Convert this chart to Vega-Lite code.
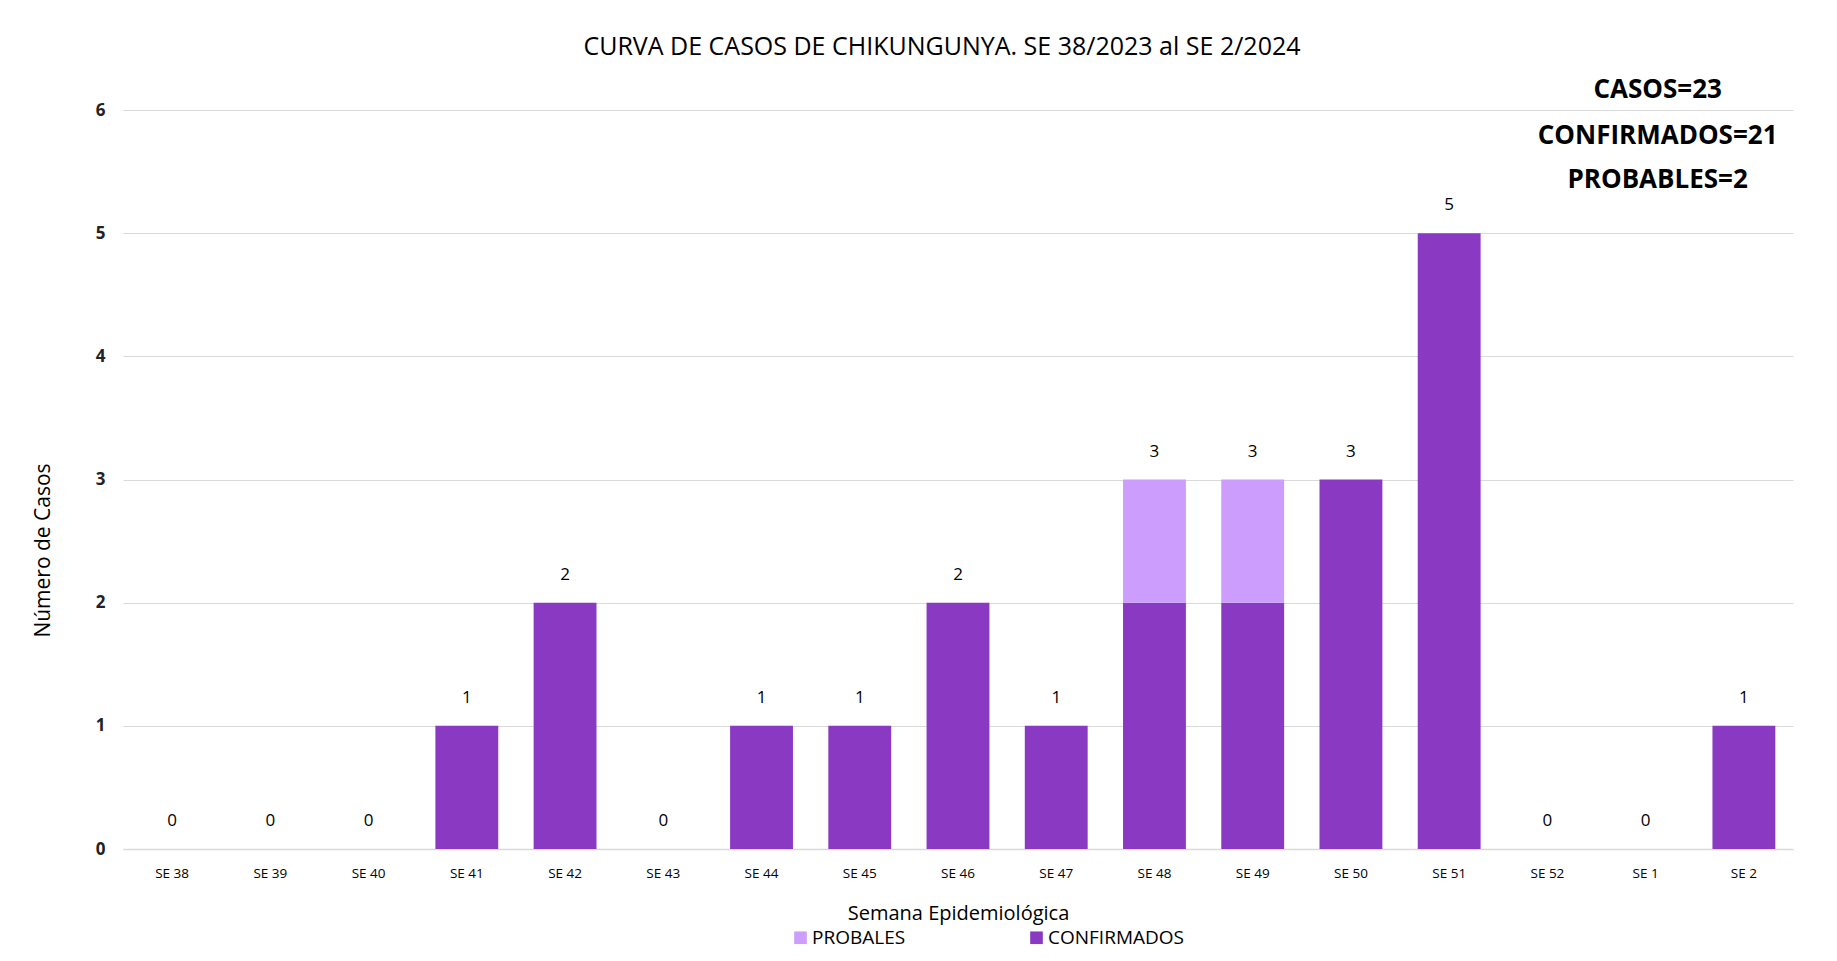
{
  "$schema": "https://vega.github.io/schema/vega-lite/v6.json",
  "autosize": {"type": "none"},
  "width": 1670,
  "height": 739,
  "padding": {"left": 123, "top": 110, "right": 44, "bottom": 112},
  "background": "white",
  "title": {
    "text": "CURVA DE CASOS DE CHIKUNGUNYA. SE 38/2023 al SE 2/2024",
    "font": "Open Sans",
    "fontSize": 25,
    "fontWeight": "normal",
    "color": "#000000",
    "offset": 17,
    "dx": -16
  },
  "config": {
    "view": {"stroke": null},
    "font": "Open Sans"
  },
  "datasets": {
    "casos": [
      {"semana": "SE 38", "tipo": "CONFIRMADOS", "casos": 0},
      {"semana": "SE 39", "tipo": "CONFIRMADOS", "casos": 0},
      {"semana": "SE 40", "tipo": "CONFIRMADOS", "casos": 0},
      {"semana": "SE 41", "tipo": "CONFIRMADOS", "casos": 1},
      {"semana": "SE 42", "tipo": "CONFIRMADOS", "casos": 2},
      {"semana": "SE 43", "tipo": "CONFIRMADOS", "casos": 0},
      {"semana": "SE 44", "tipo": "CONFIRMADOS", "casos": 1},
      {"semana": "SE 45", "tipo": "CONFIRMADOS", "casos": 1},
      {"semana": "SE 46", "tipo": "CONFIRMADOS", "casos": 2},
      {"semana": "SE 47", "tipo": "CONFIRMADOS", "casos": 1},
      {"semana": "SE 48", "tipo": "CONFIRMADOS", "casos": 2},
      {"semana": "SE 48", "tipo": "PROBALES", "casos": 1},
      {"semana": "SE 49", "tipo": "CONFIRMADOS", "casos": 2},
      {"semana": "SE 49", "tipo": "PROBALES", "casos": 1},
      {"semana": "SE 50", "tipo": "CONFIRMADOS", "casos": 3},
      {"semana": "SE 51", "tipo": "CONFIRMADOS", "casos": 5},
      {"semana": "SE 52", "tipo": "CONFIRMADOS", "casos": 0},
      {"semana": "SE 1", "tipo": "CONFIRMADOS", "casos": 0},
      {"semana": "SE 2", "tipo": "CONFIRMADOS", "casos": 1}
    ],
    "resumen": [
      {"semana": "SE 1", "valor": 6.16, "texto": "CASOS=23"},
      {"semana": "SE 1", "valor": 5.79, "texto": "CONFIRMADOS=21"},
      {"semana": "SE 1", "valor": 5.43, "texto": "PROBABLES=2"}
    ]
  },
  "layer": [
    {
      "data": {"name": "casos"},
      "mark": {"type": "bar"},
      "encoding": {
        "x": {
          "field": "semana",
          "type": "nominal",
          "sort": ["SE 38","SE 39","SE 40","SE 41","SE 42","SE 43","SE 44","SE 45","SE 46","SE 47","SE 48","SE 49","SE 50","SE 51","SE 52","SE 1","SE 2"],
          "scale": {"paddingInner": 0.36, "paddingOuter": 0.18},
          "axis": {
            "title": "Semana Epidemiológica",
            "titleFont": "Open Sans",
            "titleFontSize": 20,
            "titleFontWeight": "normal",
            "titleColor": "#000000",
            "titlePadding": 24,
            "labelAngle": 0,
            "labelFontSize": 13.5,
            "labelColor": "#000000",
            "labelPadding": 17,
            "ticks": false,
            "domainColor": "#d9d9d9",
            "domainWidth": 1.5
          }
        },
        "y": {
          "field": "casos",
          "type": "quantitative",
          "aggregate": "sum",
          "stack": "zero",
          "scale": {"domain": [0, 6]},
          "axis": {
            "title": "Número de Casos",
            "titleFont": "Open Sans",
            "titleFontSize": 21,
            "titleFontWeight": "normal",
            "titleColor": "#000000",
            "titlePadding": 42,
            "titleY": 440,
            "tickCount": 6,
            "labelFontSize": 17,
            "labelFontWeight": "bold",
            "labelColor": "#222222",
            "labelPadding": 18,
            "ticks": false,
            "domain": false,
            "gridColor": "#d9d9d9",
            "gridWidth": 1.2
          }
        },
        "color": {
          "field": "tipo",
          "type": "nominal",
          "scale": {"domain": ["PROBALES", "CONFIRMADOS"], "range": ["#cc9dfc", "#8a3ac2"]},
          "legend": {
            "title": null,
            "orient": "none",
            "legendX": 668,
            "legendY": 818,
            "direction": "horizontal",
            "symbolType": "square",
            "symbolSize": 160,
            "symbolStrokeWidth": 0,
            "labelFontSize": 19,
            "labelColor": "#000000",
            "labelOffset": 2,
            "columnPadding": 121
          }
        },
        "order": {"field": "tipo", "sort": "ascending"}
      }
    },
    {
      "data": {"name": "casos"},
      "transform": [
        {"aggregate": [{"op": "sum", "field": "casos", "as": "total"}], "groupby": ["semana"]}
      ],
      "mark": {"type": "text", "dy": -19, "fontSize": 17, "color": "#000000", "baseline": "bottom"},
      "encoding": {
        "x": {"field": "semana", "type": "nominal", "sort": ["SE 38","SE 39","SE 40","SE 41","SE 42","SE 43","SE 44","SE 45","SE 46","SE 47","SE 48","SE 49","SE 50","SE 51","SE 52","SE 1","SE 2"]},
        "y": {"field": "total", "type": "quantitative"},
        "text": {"field": "total", "type": "quantitative"}
      }
    },
    {
      "data": {"name": "resumen"},
      "mark": {"type": "text", "fontSize": 26, "fontWeight": "bold", "color": "#000000", "dx": 12, "baseline": "middle"},
      "encoding": {
        "x": {"field": "semana", "type": "nominal", "sort": ["SE 38","SE 39","SE 40","SE 41","SE 42","SE 43","SE 44","SE 45","SE 46","SE 47","SE 48","SE 49","SE 50","SE 51","SE 52","SE 1","SE 2"]},
        "y": {"field": "valor", "type": "quantitative"},
        "text": {"field": "texto", "type": "nominal"}
      }
    }
  ]
}
